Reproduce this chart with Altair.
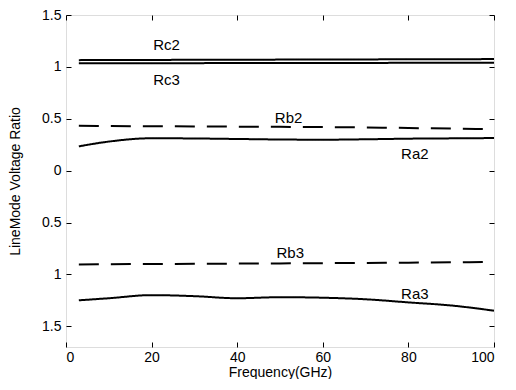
import altair as alt
import pandas as pd

freq = [3, 10, 20, 30, 40, 50, 60, 70, 80, 90, 100]
rc2 = [1.065, 1.066, 1.067, 1.068, 1.069, 1.070, 1.071, 1.072, 1.073, 1.074, 1.075]
rc3 = [1.035, 1.035, 1.036, 1.036, 1.037, 1.037, 1.038, 1.038, 1.039, 1.039, 1.040]
rb2 = [0.433, 0.430, 0.428, 0.426, 0.424, 0.422, 0.420, 0.416, 0.411, 0.405, 0.400]
ra2 = [0.234, 0.280, 0.312, 0.310, 0.305, 0.300, 0.298, 0.302, 0.308, 0.311, 0.314]
rb3 = [-0.905, -0.902, -0.900, -0.898, -0.896, -0.894, -0.892, -0.890, -0.887, -0.884, -0.880]
ra3 = [-1.25, -1.23, -1.20, -1.21, -1.23, -1.22, -1.225, -1.24, -1.27, -1.30, -1.35]

label_text = ["Rc2", "Rc3", "Rb2", "Ra2", "Rb3", "Ra3"]
label_x = [23.5, 23.5, 52, 81.5, 52.4, 81.5]
label_y = [1.21, 0.875, 0.51, 0.16, -0.79, -1.19]

series = {"Rc2": (rc2, "solid"), "Rc3": (rc3, "solid"), "Rb2": (rb2, "dash"),
          "Ra2": (ra2, "solid"), "Rb3": (rb3, "dash"), "Ra3": (ra3, "solid")}
rows = []
for name, (vals, style) in series.items():
    for f, v in zip(freq, vals):
        rows.append({"f": f, "v": v, "s": name, "style": style})
df = pd.DataFrame(rows)
lab = pd.DataFrame({"t": label_text, "f": label_x, "v": label_y})

W, H = 428, 332
FONT = "Liberation Sans"
xs = alt.Scale(domain=[0, 100], nice=False)
ys = alt.Scale(domain=[-1.7, 1.5], nice=False)
xvals = [0, 20, 40, 60, 80, 100]
yvals = [-1.5, -1, -0.5, 0, 0.5, 1, 1.5]

main_x = alt.X("f:Q", scale=xs, title="Frequency(GHz)",
               axis=alt.Axis(orient="bottom", values=xvals, ticks=False, domain=False, grid=False,
                             labelPadding=3, titlePadding=1, labelFontSize=14,
                             titleFontSize=14, titleFontWeight="normal", labelColor="black",
                             titleColor="black", labelFont=FONT, titleFont=FONT))
main_y = alt.Y("v:Q", scale=ys, title="LineMode Voltage Ratio",
               axis=alt.Axis(orient="left", values=yvals, ticks=False, domain=False, grid=False,
                             labelExpr="'' + abs(datum.value)", labelPadding=5,
                             titlePadding=19, labelFontSize=14, titleFontSize=14,
                             titleFontWeight="normal", labelColor="black", titleColor="black",
                             labelFont=FONT, titleFont=FONT))

lines = alt.Chart(df).mark_line(color="black", strokeWidth=2, interpolate="monotone").encode(
    x=main_x, y=main_y, detail="s:N",
    strokeDash=alt.StrokeDash("style:N", scale=alt.Scale(domain=["solid", "dash"],
                              range=[[1, 0], [20, 12]]), legend=None),
)
texts = alt.Chart(lab).mark_text(font=FONT, fontSize=15, color="black").encode(
    x=alt.X("f:Q", scale=xs, axis=None), y=alt.Y("v:Q", scale=ys, axis=None), text="t:N")

def tick_layer(xorient, yorient):
    common = dict(labels=True, labelColor="transparent", labelFontSize=1, labelPadding=0,
                  domain=True, domainColor="transparent", grid=False, tickSize=5,
                  tickColor="black", tickWidth=1, title=None)
    return alt.Chart(lab).mark_point(opacity=0).encode(
        x=alt.X("f:Q", scale=xs, axis=alt.Axis(orient=xorient, offset=-H, values=xvals, **common)),
        y=alt.Y("v:Q", scale=ys, axis=alt.Axis(orient=yorient, offset=-W, values=yvals, **common)),
    )

chart = alt.layer(lines, texts, tick_layer("top", "right"), tick_layer("bottom", "left")).resolve_axis(
    x="independent", y="independent"
).properties(width=W, height=H, padding={"left": 0, "top": 0, "right": 5, "bottom": 0}
).configure_view(stroke="black", strokeWidth=1.2).configure(background="white")

chart.save("out.html", embed_options={"renderer": "svg", "actions": False})
